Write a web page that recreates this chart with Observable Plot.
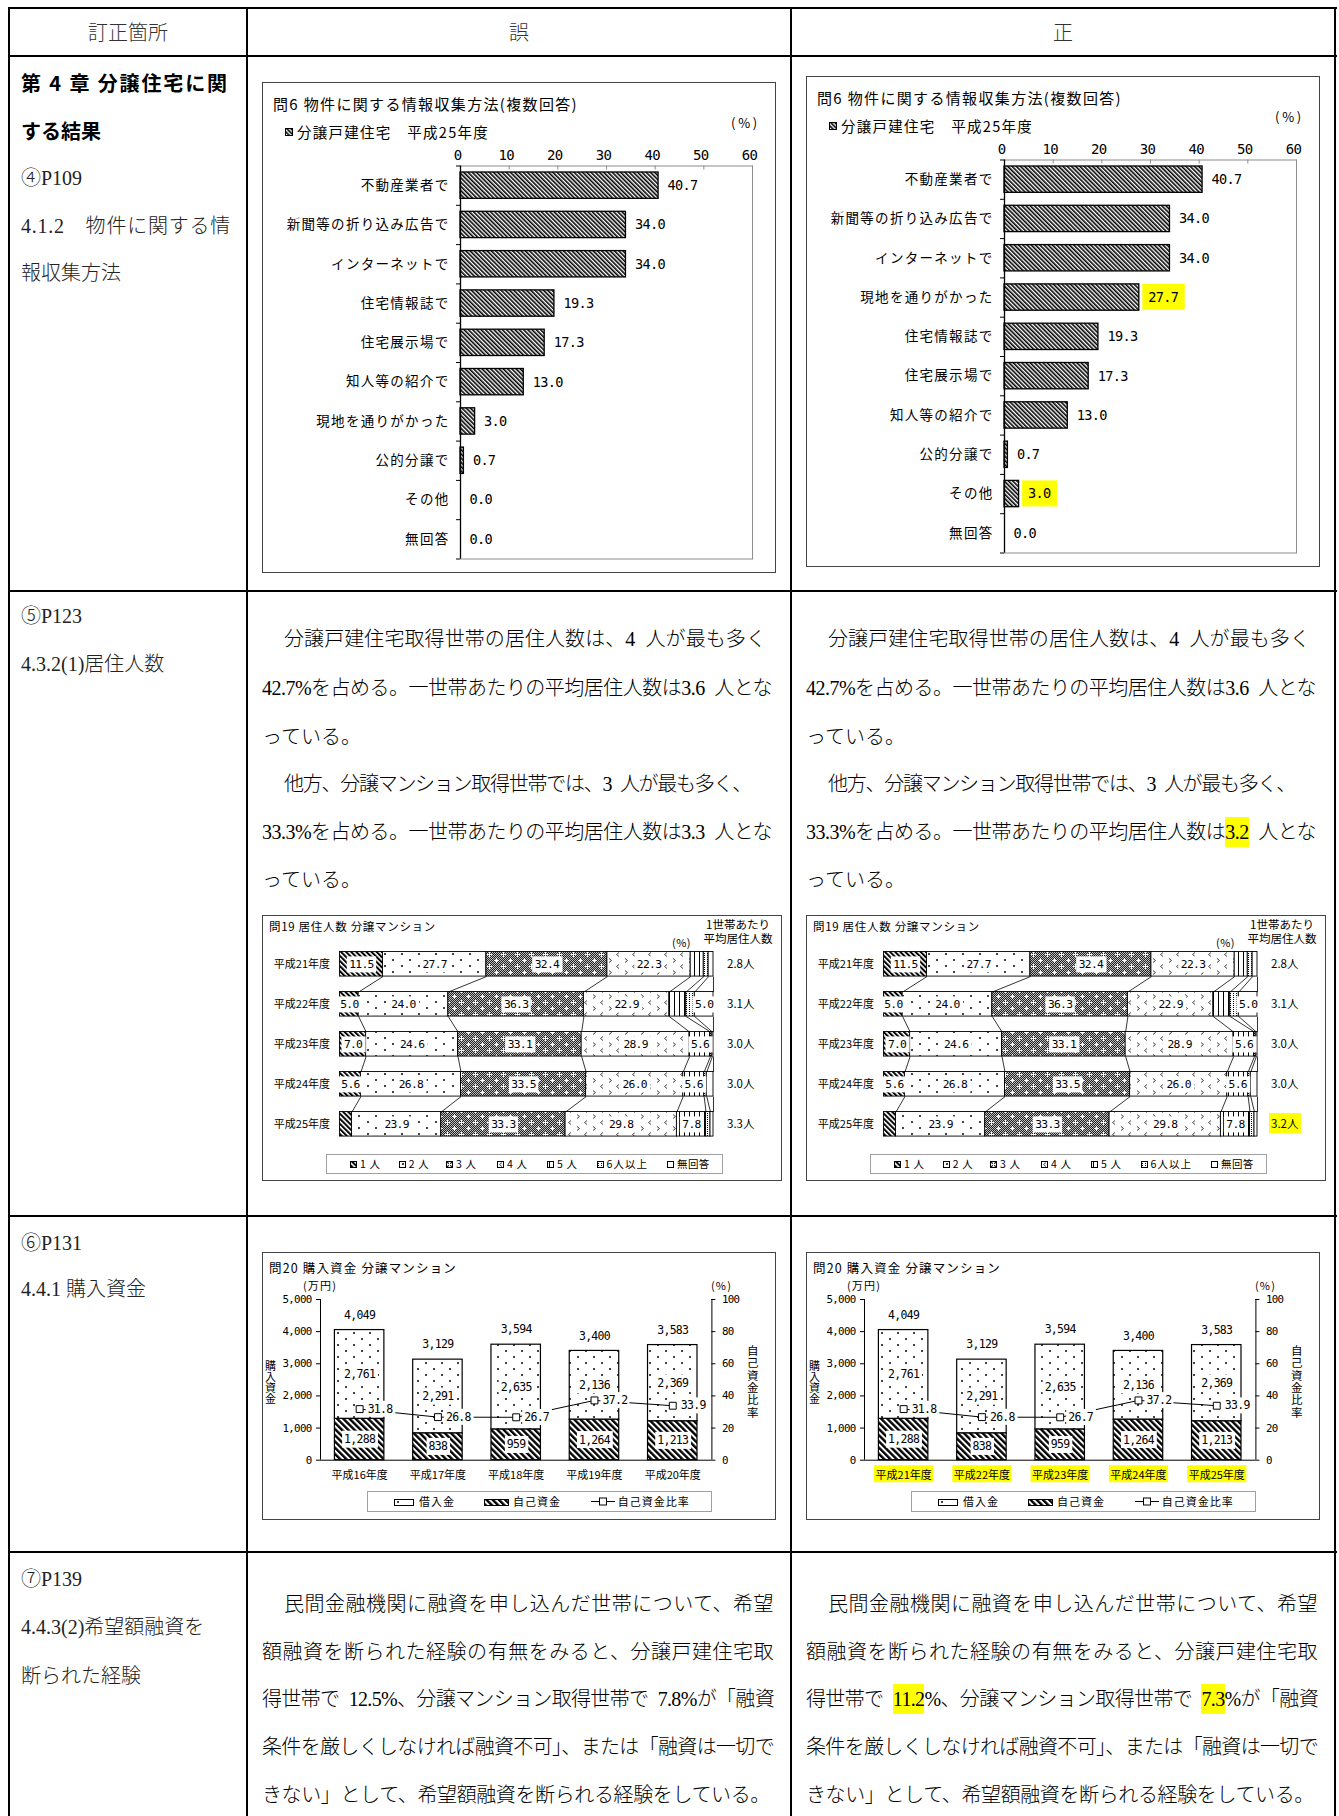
<!DOCTYPE html>
<html><head><meta charset="utf-8">
<script src="https://cdn.jsdelivr.net/npm/d3@7"></script>
<script src="https://cdn.jsdelivr.net/npm/@observablehq/plot@0.6"></script>
<style>
html,body{margin:0;padding:0;background:#fff;overflow:hidden;}
#page{position:relative;width:1339px;height:1816px;overflow:hidden;background:#fff;}
.t{position:absolute;white-space:nowrap;}
.hl{background:#ffff00;padding:4px 0;}
.ln{position:absolute;background:#000;}
.box{position:absolute;border:1px solid #444;box-sizing:border-box;}
.lgbox{position:absolute;border:1px solid #a0a0a0;box-sizing:border-box;}
.chart{position:absolute;}
.chart svg{overflow:visible;display:block;}
.q6cat text{letter-spacing:1.3px;}
.num text,.wbox text,.wbox2 text,.hlNum text{letter-spacing:-0.7px;}
</style></head><body>
<svg width="0" height="0" style="position:absolute;left:0;top:0" aria-hidden="true">
<defs>
<pattern id="pHatch6" width="3" height="3" patternUnits="userSpaceOnUse" patternTransform="rotate(-45)">
<rect width="3" height="3" fill="#fff"/><rect width="1.6" height="3" fill="#000"/></pattern>
<pattern id="p19a" width="3.6" height="3.6" patternUnits="userSpaceOnUse" patternTransform="rotate(-45)">
<rect width="3.6" height="3.6" fill="#fff"/><rect width="2" height="3.6" fill="#000"/></pattern>
<pattern id="pHatch20" width="4.4" height="4.4" patternUnits="userSpaceOnUse" patternTransform="rotate(-45)">
<rect width="4.4" height="4.4" fill="#fff"/><rect width="2.4" height="4.4" fill="#000"/></pattern>
<pattern id="p19b" width="17" height="12" patternUnits="userSpaceOnUse">
<rect width="17" height="12" fill="#fff"/><rect x="3" y="2" width="2" height="2" fill="#444"/><rect x="11" y="8" width="2" height="2" fill="#444"/></pattern>
<pattern id="pDots20" width="16" height="12" patternUnits="userSpaceOnUse">
<rect width="16" height="12" fill="#fff"/><rect x="3" y="2" width="2" height="2" fill="#444"/><rect x="11" y="8" width="2" height="2" fill="#444"/></pattern>
<pattern id="pCheck" width="2" height="2" patternUnits="userSpaceOnUse">
<rect width="2" height="2" fill="#bdbdbd"/><rect width="1" height="1" fill="#222"/><rect x="1" y="1" width="1" height="1" fill="#222"/></pattern>
<pattern id="p19c" width="14" height="12" patternUnits="userSpaceOnUse">
<rect width="14" height="12" fill="url(#pCheck)"/><path d="M3.5 1v5M1 3.5h5M10.5 7v5M8 9.5h5" stroke="#fff" stroke-width="1"/></pattern>
<pattern id="p19d" width="16" height="12" patternUnits="userSpaceOnUse">
<rect width="16" height="12" fill="#fff"/><path d="M5 1.5L2.5 3.5L5 5.5M11 7.5L13.5 9.5L11 11.5" stroke="#444" stroke-width="1" fill="none"/></pattern>
<pattern id="p19e" width="5" height="4" patternUnits="userSpaceOnUse">
<rect width="5" height="4" fill="#fff"/><rect x="2" width="1" height="4" fill="#000"/></pattern>
<pattern id="p19f" width="3" height="2" patternUnits="userSpaceOnUse">
<rect width="3" height="2" fill="#fff"/><rect x="1" width="1" height="1" fill="#000"/></pattern>
</defs></svg>
<div id="page"></div>
<script>
// ---------------- DATA ----------------
const headerLabels = ["訂正箇所", "誤", "正"];

const col1Lines = ["第 4 章 分譲住宅に関", "する結果", "④P109", "4.1.2　物件に関する情", "報収集方法",
  "⑤P123", "4.3.2(1)居住人数", "⑥P131", "4.4.1 購入資金", "⑦P139", "4.4.3(2)希望額融資を", "断られた経験"];
const col1Bold = [true, true, false, false, false, false, false, false, false, false, false, false];

const q6CatsWrong = ["不動産業者で", "新聞等の折り込み広告で", "インターネットで", "住宅情報誌で", "住宅展示場で", "知人等の紹介で", "現地を通りがかった", "公的分譲で", "その他", "無回答"];
const q6ValsWrong = [40.7, 34.0, 34.0, 19.3, 17.3, 13.0, 3.0, 0.7, 0.0, 0.0];
const q6CatsRight = ["不動産業者で", "新聞等の折り込み広告で", "インターネットで", "現地を通りがかった", "住宅情報誌で", "住宅展示場で", "知人等の紹介で", "公的分譲で", "その他", "無回答"];
const q6ValsRight = [40.7, 34.0, 34.0, 27.7, 19.3, 17.3, 13.0, 0.7, 3.0, 0.0];
const q6HighlightRight = ["現地を通りがかった", "その他"];
const q6Ticks = [0, 10, 20, 30, 40, 50, 60];
const q6Title = "問6 物件に関する情報収集方法(複数回答)";
const q6Subtitle = "分譲戸建住宅　平成25年度";

const row2TextWrong = [
  "分譲戸建住宅取得世帯の居住人数は、4 人が最も多く",
  "42.7%を占める。一世帯あたりの平均居住人数は3.6 人とな",
  "っている。",
  "他方、分譲マンション取得世帯では、3 人が最も多く、",
  "33.3%を占める。一世帯あたりの平均居住人数は3.3 人とな",
  "っている。"];
const row2TextRight = [
  "分譲戸建住宅取得世帯の居住人数は、4 人が最も多く",
  "42.7%を占める。一世帯あたりの平均居住人数は3.6 人とな",
  "っている。",
  "他方、分譲マンション取得世帯では、3 人が最も多く、",
  "33.3%を占める。一世帯あたりの平均居住人数は{3.2} 人とな",
  "っている。"];

const q19Title = "問19 居住人数 分譲マンション";
const q19Years = ["平成21年度", "平成22年度", "平成23年度", "平成24年度", "平成25年度"];
const q19Groups = ["1人", "2人", "3人", "4人", "5人", "6人以上", "無回答"];
const q19One = [11.5, 5.0, 7.0, 5.6, 3.2];
const q19Two = [27.7, 24.0, 24.6, 26.8, 23.9];
const q19Three = [32.4, 36.3, 33.1, 33.5, 33.3];
const q19Four = [22.3, 22.9, 28.9, 26.0, 29.8];
const q19Five = [3.5, 4.5, 5.6, 5.6, 7.8];
const q19SixPlus = [1.3, 2.3, 0.5, 0.7, 1.2];
const q19NoAnswer = [1.3, 5.0, 0.3, 1.8, 0.8];
const q19AvgWrong = ["2.8人", "3.1人", "3.0人", "3.0人", "3.3人"];
const q19AvgRight = ["2.8人", "3.1人", "3.0人", "3.0人", "3.2人"];

const q20Title = "問20 購入資金 分譲マンション";
const q20YearsWrong = ["平成16年度", "平成17年度", "平成18年度", "平成19年度", "平成20年度"];
const q20YearsRight = ["平成21年度", "平成22年度", "平成23年度", "平成24年度", "平成25年度"];
const q20Loan = [2761, 2291, 2635, 2136, 2369];
const q20Own = [1288, 838, 959, 1264, 1213];
const q20Total = [4049, 3129, 3594, 3400, 3583];
const q20Ratio = [31.8, 26.8, 26.7, 37.2, 33.9];
const q20LeftTicks = [0, 1000, 2000, 3000, 4000, 5000];
const q20RightTicks = [0, 20, 40, 60, 80, 100];
const q20Legend = ["借入金", "自己資金", "自己資金比率"];

const row4TextWrong = [
  "民間金融機関に融資を申し込んだ世帯について、希望",
  "額融資を断られた経験の有無をみると、分譲戸建住宅取",
  "得世帯で 12.5%、分譲マンション取得世帯で 7.8%が「融資",
  "条件を厳しくしなければ融資不可」、または「融資は一切で",
  "きない」として、希望額融資を断られる経験をしている。"];
const row4TextRight = [
  "民間金融機関に融資を申し込んだ世帯について、希望",
  "額融資を断られた経験の有無をみると、分譲戸建住宅取",
  "得世帯で {11.2}%、分譲マンション取得世帯で {7.3}%が「融資",
  "条件を厳しくしなければ融資不可」、または「融資は一切で",
  "きない」として、希望額融資を断られる経験をしている。"];

// ---------------- LAYOUT HELPERS ----------------
const JP = '"Noto Sans CJK JP","Noto Sans",sans-serif';
const SERIF = '"Liberation Serif","Noto Sans CJK JP",serif';
const MONO = '"DejaVu Sans Mono","Noto Sans CJK JP",monospace';
const NS = "http://www.w3.org/2000/svg";
const page = document.getElementById("page");
const mark = s => s.replace(/ /g, "\u2002").replace(/\{([^}]*)\}/g, '<span class="hl">$1</span>');

function T(x, yc, html, o = {}) {
  const fs = o.size || 20;
  const el = document.createElement("div");
  el.className = "t";
  Object.assign(el.style, {fontSize: fs + "px", lineHeight: fs + "px", fontFamily: o.family || SERIF,
    color: o.color || "#000", fontWeight: o.weight || 400, top: (yc - fs / 2) + "px", left: "0px"});
  el.innerHTML = html;
  page.appendChild(el);
  if (o.width) {
    const w = el.getBoundingClientRect().width;
    const n = [...el.textContent].length;
    el.style.letterSpacing = ((o.width - w) / n) + "px";
  }
  const w2 = el.getBoundingClientRect().width;
  let left = x;
  if (o.align === "center") left = x - w2 / 2; else if (o.align === "right") left = x - w2;
  el.style.left = left + "px";
  return el;
}
function V(cx, top, text, o = {}) {
  const fs = o.size || 11;
  const el = document.createElement("div");
  el.className = "t";
  Object.assign(el.style, {fontSize: fs + "px", lineHeight: fs + "px", fontFamily: JP, writingMode: "vertical-rl",
    textOrientation: "upright", top: top + "px", left: "0px", color: "#000"});
  el.textContent = text;
  page.appendChild(el);
  if (o.height) {
    const h = el.getBoundingClientRect().height;
    el.style.letterSpacing = ((o.height - h) / [...text].length) + "px";
  }
  const w = el.getBoundingClientRect().width;
  el.style.left = (cx - w / 2) + "px";
}
function line(x, y, w, h) {
  const d = document.createElement("div");
  d.className = "ln";
  Object.assign(d.style, {left: x + "px", top: y + "px", width: w + "px", height: h + "px"});
  page.appendChild(d);
}
function boxDiv(x, y, w, h, cls = "box") {
  const d = document.createElement("div");
  d.className = cls;
  Object.assign(d.style, {left: x + "px", top: y + "px", width: w + "px", height: h + "px"});
  page.appendChild(d);
}
function swatch(x, y, w, h, fill) {
  const s = document.createElementNS(NS, "svg");
  s.setAttribute("width", w); s.setAttribute("height", h);
  Object.assign(s.style, {position: "absolute", left: x + "px", top: y + "px", overflow: "visible"});
  const r = document.createElementNS(NS, "rect");
  r.setAttribute("x", 0.5); r.setAttribute("y", 0.5); r.setAttribute("width", w - 1); r.setAttribute("height", h - 1);
  r.setAttribute("fill", fill); r.setAttribute("stroke", "#000"); r.setAttribute("stroke-width", 1);
  s.appendChild(r);
  page.appendChild(s);
  return s;
}
function place(x, y, w, svg) {
  const d = document.createElement("div");
  d.className = "chart";
  Object.assign(d.style, {left: x + "px", top: y + "px", width: w + "px"});
  d.appendChild(svg);
  page.appendChild(d);
}
function boxTexts(svg, cls, fill, px, py) {
  svg.querySelectorAll("." + cls + " text").forEach(t => {
    const b = t.getBBox();
    const r = document.createElementNS(NS, "rect");
    r.setAttribute("x", b.x - px); r.setAttribute("y", b.y - py);
    r.setAttribute("width", b.width + 2 * px); r.setAttribute("height", b.height + 2 * py);
    r.setAttribute("fill", fill); r.setAttribute("stroke", "none");
    const tr = t.getAttribute("transform");
    if (tr) r.setAttribute("transform", tr);
    t.parentNode.insertBefore(r, t);
  });
}
const plotStyle = {background: "transparent", color: "#000", fontFamily: JP, overflow: "visible"};

// ---------------- CHART 問6 ----------------
function drawQ6(bx, by, cats, vals, hl) {
  const W = 514, H = 491, ML = 198, MR = 24, MT = 83.5, MB = 14.5;
  const fw = W - ML - MR, fh = H - MT - MB;
  const n = cats.length, bh = 0.335;
  const rows = cats.map((c, i) => ({c, i, v: vals[i], hl: hl.includes(c)}));
  boxDiv(bx, by, W, H);
  const svg = Plot.plot({
    width: W, height: H, marginLeft: ML, marginRight: MR, marginTop: MT, marginBottom: MB,
    style: plotStyle,
    x: {domain: [0, 60], axis: null},
    y: {domain: [-0.5, n - 0.5], reverse: true, axis: null},
    marks: [
      Plot.frame({stroke: "#8c8c8c"}),
      Plot.ruleX(q6Ticks, {x: d => d, stroke: "#8c8c8c", insetBottom: fh - 4}),
      Plot.ruleY(d3.range(n + 1), {y: d => d - 0.5, stroke: "#000", insetLeft: -4, insetRight: fw}),
      Plot.rectX(rows.filter(d => d.v > 0), {x1: 0, x2: "v", y1: d => d.i - bh, y2: d => d.i + bh,
        fill: "url(#pHatch6)", stroke: "#000", strokeWidth: 1.3}),
      Plot.ruleX([0], {x: d => d, stroke: "#000", strokeWidth: 1.3}),
      Plot.text(rows, {x: 0, y: "i", text: "c", textAnchor: "end", dx: -11, fontSize: 13.5, fontFamily: JP, className: "q6cat"}),
      Plot.text(rows.filter(d => !d.hl), {x: "v", y: "i", text: d => d.v.toFixed(1), textAnchor: "start", dx: 9, fontSize: 13.6, fontFamily: MONO, className: "num"}),
      Plot.text(rows.filter(d => d.hl), {x: "v", y: "i", text: d => d.v.toFixed(1), textAnchor: "start", dx: 9, fontSize: 13.6, fontFamily: MONO, className: "hlNum"}),
      Plot.text(q6Ticks, {x: d => d, frameAnchor: "top", dy: -16, dx: -3, text: d => String(d), fontSize: 14, fontFamily: MONO, className: "num"})
    ]
  });
  place(bx, by, W, svg);
  boxTexts(svg, "hlNum", "#ffff00", 6, 5);
  T(bx + 11, by + 21.3, q6Title, {family: JP, size: 15, width: 305});
  swatch(bx + 23, by + 46, 8, 8, "url(#pHatch6)");
  T(bx + 35, by + 50, q6Subtitle, {family: JP, size: 14.5, width: 192});
  T(bx + 469, by + 40, "(%)", {family: JP, size: 13, width: 29});
}

// ---------------- CHART 問19 ----------------
function drawQ19(bx, by, avg, hlIdx) {
  const W = 520, H = 266, ML = 77.5, MR = 69, MT = 28.8, MB = 37.2;
  const groups = [q19One, q19Two, q19Three, q19Four, q19Five, q19SixPlus, q19NoAnswer];
  const fills = ["url(#p19a)", "url(#p19b)", "url(#p19c)", "url(#p19d)", "url(#p19e)", "url(#p19f)", "#fff"];
  const segs = [], cum = [];
  q19Years.forEach((yr, i) => {
    let c = 0; const cc = [0];
    groups.forEach((arr, k) => { segs.push({i, k, x1: c, x2: c + arr[i], v: arr[i]}); c += arr[i]; cc.push(c); });
    cum.push(cc);
  });
  const bh = 0.307;
  const links = [];
  for (let i = 0; i < q19Years.length - 1; i++)
    for (let k = 1; k <= groups.length; k++)
      links.push({x1: cum[i][k], x2: cum[i + 1][k], y1: i + bh, y2: i + 1 - bh});
  const avgRows = avg.map((a, i) => ({a, i}));
  boxDiv(bx, by, W, H);
  const svg = Plot.plot({
    width: W, height: H, marginLeft: ML, marginRight: MR, marginTop: MT, marginBottom: MB,
    style: plotStyle,
    x: {domain: [0, 100], axis: null},
    y: {domain: [-0.5, q19Years.length - 0.5], reverse: true, axis: null},
    marks: [
      ...groups.map((g, k) => Plot.rectX(segs.filter(s => s.k === k && s.v > 0), {x1: "x1", x2: "x2",
        y1: d => d.i - bh, y2: d => d.i + bh, fill: fills[k], stroke: "#000", strokeWidth: 0.9})),
      Plot.link(links, {x1: "x1", y1: "y1", x2: "x2", y2: "y2", stroke: "#000", strokeWidth: 0.8}),
      Plot.text(segs.filter(s => s.v >= 5), {x: d => (d.x1 + d.x2) / 2, y: "i", text: d => d.v.toFixed(1),
        fontSize: 11.3, fontFamily: MONO, className: "wbox"}),
      Plot.text(q19Years, {x: 0, y: (d, i) => i, text: d => d, textAnchor: "end", dx: -10, fontSize: 11, fontFamily: JP}),
      Plot.text(avgRows.filter(d => d.i !== hlIdx), {x: 100, y: "i", text: "a", textAnchor: "start", dx: 13.5, fontSize: 11.5, fontFamily: JP}),
      Plot.text(avgRows.filter(d => d.i === hlIdx), {x: 100, y: "i", text: "a", textAnchor: "start", dx: 13.5, fontSize: 11.5, fontFamily: JP, className: "hlText"})
    ]
  });
  place(bx, by, W, svg);
  boxTexts(svg, "wbox", "#fff", 2.5, 1.5);
  boxTexts(svg, "hlText", "#ffff00", 2, 2);
  T(bx + 7, by + 11.7, q19Title, {family: JP, size: 11.5, width: 167});
  T(bx + 476, by + 10, "1世帯あたり", {family: JP, size: 11.5, width: 64, align: "center"});
  T(bx + 476, by + 23.3, "平均居住人数", {family: JP, size: 11.5, width: 69, align: "center"});
  T(bx + 410, by + 27, "(%)", {family: JP, size: 11, width: 19});
  // legend
  boxDiv(bx + 64, by + 239, 397, 20, "lgbox");
  const lx = [88, 136.7, 184, 235, 285, 334.5, 405];
  q19Groups.forEach((g, k) => {
    swatch(bx + lx[k], by + 245.5, 7, 7, fills[k]);
    T(bx + lx[k] + 10, by + 249, g, {family: JP, size: 10.5, width: g.length * 10.5 * 0.85 + 6});
  });
}

// ---------------- CHART 問20 ----------------
function drawQ20(bx, by, years, hl) {
  const W = 514, H = 268, ML = 58, MR = 64.6, MT = 47, MB = 60.3;
  const fw = W - ML - MR;
  const bw = 0.316, fmt = d3.format(",");
  const data = years.map((y, i) => ({y, i, loan: q20Loan[i], own: q20Own[i], total: q20Total[i], ratio: q20Ratio[i]}));
  boxDiv(bx, by, W, H);
  const svg = Plot.plot({
    width: W, height: H, marginLeft: ML, marginRight: MR, marginTop: MT, marginBottom: MB,
    style: plotStyle,
    x: {domain: [-0.5, years.length - 0.5], axis: null},
    y: {domain: [0, 5000], axis: null},
    marks: [
      Plot.rectY(data, {x1: d => d.i - bw, x2: d => d.i + bw, y1: 0, y2: "own", fill: "url(#pHatch20)", stroke: "#000", strokeWidth: 1.2}),
      Plot.rectY(data, {x1: d => d.i - bw, x2: d => d.i + bw, y1: "own", y2: d => d.own + d.loan, fill: "url(#pDots20)", stroke: "#000", strokeWidth: 1.2}),
      Plot.ruleX([-0.5, years.length - 0.5], {x: d => d, stroke: "#000"}),
      Plot.ruleY([0], {y: d => d, stroke: "#000"}),
      Plot.ruleY(q20LeftTicks, {y: d => d, stroke: "#000", insetLeft: -4, insetRight: fw}),
      Plot.ruleY(q20RightTicks, {y: d => d * 50, stroke: "#000", insetLeft: fw, insetRight: -4}),
      Plot.text(q20LeftTicks, {x: -0.5, y: d => d, text: d => fmt(d), textAnchor: "end", dx: -9, fontSize: 10.8, fontFamily: MONO, className: "num"}),
      Plot.text(q20RightTicks, {x: years.length - 0.5, y: d => d * 50, text: d => String(d), textAnchor: "start", dx: 10, fontSize: 10.8, fontFamily: MONO, className: "num"}),
      Plot.text(data, {x: "i", y: d => d.own / 2, text: d => fmt(d.own), fontSize: 11.5, fontFamily: MONO, className: "wbox"}),
      Plot.text(data, {x: "i", y: d => d.own + d.loan / 2, text: d => fmt(d.loan), fontSize: 11.5, fontFamily: MONO, className: "wbox"}),
      Plot.text(data, {x: "i", y: "total", dy: -15, text: d => fmt(d.total), fontSize: 11.5, fontFamily: MONO, className: "num"}),
      Plot.line(data, {x: "i", y: d => d.ratio * 50, stroke: "#000", strokeWidth: 1}),
      Plot.dot(data, {x: "i", y: d => d.ratio * 50, symbol: "square", r: 3.9, fill: "#fff", stroke: "#000", strokeWidth: 1}),
      Plot.text(data, {x: "i", y: d => d.ratio * 50, dx: 8, textAnchor: "start", text: d => d.ratio.toFixed(1), fontSize: 11.5, fontFamily: MONO, className: "wbox2"}),
      Plot.text(data, {x: "i", y: 0, dy: 15, text: "y", fontSize: 11, fontFamily: JP, className: hl ? "hlText" : "plainYear"})
    ]
  });
  place(bx, by, W, svg);
  boxTexts(svg, "wbox", "#fff", 2, 1.5);
  boxTexts(svg, "wbox2", "#fff", 2, 1);
  boxTexts(svg, "hlText", "#ffff00", 1.5, 0.5);
  T(bx + 7, by + 16, q20Title, {family: JP, size: 12.5, width: 188});
  T(bx + 41, by + 33.5, "(万円)", {family: JP, size: 11, width: 34});
  T(bx + 449, by + 33.5, "(%)", {family: JP, size: 11, width: 21});
  V(bx + 8, by + 107.7, "購入資金", {size: 11, height: 44});
  V(bx + 490, by + 92.7, "自己資金比率", {size: 11.5, height: 74});
  // legend
  boxDiv(bx + 104.6, by + 239.4, 345.4, 20.6, "lgbox");
  swatch(bx + 132, by + 246.5, 20, 7, "url(#pDots20)");
  T(bx + 157, by + 249.7, q20Legend[0], {family: JP, size: 11, width: 36});
  swatch(bx + 222, by + 246.5, 25, 7, "url(#pHatch20)");
  T(bx + 251, by + 249.7, q20Legend[1], {family: JP, size: 11, width: 48});
  const ls = document.createElementNS(NS, "svg");
  ls.setAttribute("width", 24); ls.setAttribute("height", 9);
  Object.assign(ls.style, {position: "absolute", left: (bx + 329.4) + "px", top: (by + 245.2) + "px", overflow: "visible"});
  ls.innerHTML = '<line x1="0" y1="4.5" x2="24" y2="4.5" stroke="#000"/><rect x="8.5" y="1" width="7" height="7" fill="#fff" stroke="#000"/>';
  page.appendChild(ls);
  T(bx + 355.7, by + 249.7, q20Legend[2], {family: JP, size: 11, width: 72});
}

// ---------------- TABLE ----------------
const X = [9, 247, 791, 1335];
const Yb = [8, 56, 591, 1216, 1552];
Yb.forEach(y => line(8, y - 1, 1329, 2));
X.forEach(x => line(x - 1, 7, 2, 1830));

T(128, 32.5, headerLabels[0], {size: 20, weight: 300, color: "#333", align: "center"});
T(519, 32.5, headerLabels[1], {size: 20, weight: 300, color: "#333", align: "center"});
T(1063, 32.5, headerLabels[2], {size: 20, weight: 300, color: "#333", align: "center"});

const col1Y = [83.4, 131, 178.4, 226, 273.4, 616, 663.7, 1243, 1289, 1579, 1627.4, 1676];
col1Lines.forEach((s, i) => {
  if (col1Bold[i]) T(21, col1Y[i], s, {family: JP, weight: 700, size: 20, width: i === 0 ? 208 : null});
  else T(21, col1Y[i], s, {size: 20, weight: 300, color: "#222", width: i === 3 ? 210 : null});
});

// row 1
drawQ6(262, 82, q6CatsWrong, q6ValsWrong, []);
drawQ6(806, 76, q6CatsRight, q6ValsRight, q6HighlightRight);

// row 2 text
const row2Y = [639.4, 688, 736.7, 784, 831.7, 880.3];
const row2Indent = [1, 0, 0, 1, 0, 0];
const row2W = [482, 510, null, 467, 510, null];
[[row2TextWrong, 0], [row2TextRight, 544]].forEach(([lines, off]) => {
  lines.forEach((s, i) => {
    const x = 262 + off + (row2Indent[i] ? 22 : 0);
    T(x, row2Y[i], mark(s), {size: 20, weight: 300, width: row2W[i]});
  });
});
drawQ19(262, 915, q19AvgWrong, -1);
drawQ19(806, 915, q19AvgRight, 4);

// row 3
drawQ20(262, 1252, q20YearsWrong, false);
drawQ20(806, 1252, q20YearsRight, true);

// row 4 text
const row4Y = [1604, 1651.7, 1699.3, 1746.7, 1795.4];
const row4Indent = [1, 0, 0, 0, 0];
const row4W = [490, 512, 512, 512, 508];
[[row4TextWrong, 0], [row4TextRight, 544]].forEach(([lines, off]) => {
  lines.forEach((s, i) => {
    const x = 262 + off + (row4Indent[i] ? 22 : 0);
    T(x, row4Y[i], mark(s), {size: 20, weight: 300, width: row4W[i]});
  });
});
</script></body></html>
